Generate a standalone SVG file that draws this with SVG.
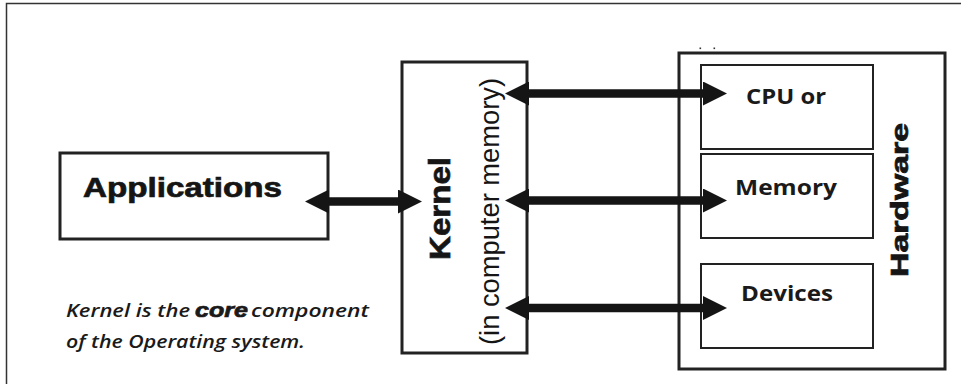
<svg xmlns="http://www.w3.org/2000/svg" width="961" height="384" viewBox="0 0 961 384">
<defs>
<style>
.box{fill:#fff;stroke:#222;stroke-width:3}
.inner{fill:#fff;stroke:#222;stroke-width:2}
.heavy{font-family:"Liberation Sans",Arial,sans-serif;font-weight:bold;fill:#151515;stroke:#151515;stroke-width:0.7}
.reg{font-family:"Liberation Sans",Arial,sans-serif;fill:#151515}
.cal{font-family:"Open Sans","Noto Sans",sans-serif;font-weight:bold;fill:#1a1a1a}
.ital{font-family:"Open Sans","Noto Sans",sans-serif;font-style:italic;font-weight:600;fill:#1a1a1a;font-size:18.5px}
.conn{stroke:#151515;stroke-width:8.5;fill:none}
</style>
<marker id="ah" viewBox="0 0 24 24" refX="12" refY="12" markerWidth="24" markerHeight="24" markerUnits="userSpaceOnUse" orient="auto-start-reverse">
<path d="M0,0 L24,12 L0,24 z" fill="#151515"/>
</marker>
</defs>
<rect x="0" y="0" width="961" height="384" fill="#fff"/>
<rect x="6.5" y="3.5" width="1000" height="1000" fill="none" stroke="#333" stroke-width="1.5"/>

<g id="applications">
<rect class="box" x="60" y="153" width="268" height="86"/>
<text class="heavy" x="83" y="197" font-size="27" textLength="199" lengthAdjust="spacingAndGlyphs">Applications</text>
</g>

<g id="kernel">
<rect class="box" x="402" y="62" width="125" height="291"/>
<text class="heavy" transform="translate(450,208.5) rotate(-90)" text-anchor="middle" font-size="29" textLength="103" lengthAdjust="spacingAndGlyphs">Kernel</text>
<text class="reg" transform="translate(499,211.5) rotate(-90)" text-anchor="middle" font-size="27" textLength="267" lengthAdjust="spacingAndGlyphs">(in computer memory)</text>
</g>

<g id="hardware">
<rect class="box" x="679" y="53" width="266" height="316"/>
<rect x="699.5" y="47.5" width="1.6" height="1.6" fill="#333"/>
<rect x="713.5" y="47.5" width="1.6" height="1.6" fill="#333"/>
<text class="heavy" transform="translate(908,200) rotate(-90)" text-anchor="middle" font-size="23" textLength="154" lengthAdjust="spacingAndGlyphs">Hardware</text>
</g>

<g id="cpu">
<rect class="inner" x="701" y="65" width="172" height="84"/>
<text class="cal" x="786" y="103.5" text-anchor="middle" font-size="22" textLength="80" lengthAdjust="spacingAndGlyphs">CPU or</text>
</g>

<g id="memory">
<rect class="inner" x="701" y="154" width="172" height="84"/>
<text class="cal" x="786" y="195" text-anchor="middle" font-size="22" textLength="102" lengthAdjust="spacingAndGlyphs">Memory</text>
</g>

<g id="devices">
<rect class="inner" x="701" y="264" width="172" height="84"/>
<text class="cal" x="787" y="301" text-anchor="middle" font-size="22" textLength="92" lengthAdjust="spacingAndGlyphs">Devices</text>
</g>

<g id="note">
<text class="ital" x="66" y="316.5"><tspan textLength="124" lengthAdjust="spacingAndGlyphs">Kernel is the</tspan><tspan x="195" font-family="'Liberation Sans',Arial,sans-serif" font-weight="bold" font-size="21" stroke="#1a1a1a" stroke-width="0.7" textLength="53" lengthAdjust="spacingAndGlyphs">core</tspan><tspan x="251" textLength="118" lengthAdjust="spacingAndGlyphs">component</tspan></text>
<text class="ital" x="66" y="347.5" textLength="239" lengthAdjust="spacingAndGlyphs">of the Operating system.</text>
</g>

<g id="connectors">
<line class="conn" x1="317" y1="201.5" x2="410" y2="201.5" marker-start="url(#ah)" marker-end="url(#ah)"/>
<line class="conn" x1="517" y1="93.5" x2="715" y2="93.5" marker-start="url(#ah)" marker-end="url(#ah)"/>
<line class="conn" x1="517" y1="200.5" x2="715" y2="200.5" marker-start="url(#ah)" marker-end="url(#ah)"/>
<line class="conn" x1="517" y1="308" x2="715" y2="308" marker-start="url(#ah)" marker-end="url(#ah)"/>
</g>
</svg>
